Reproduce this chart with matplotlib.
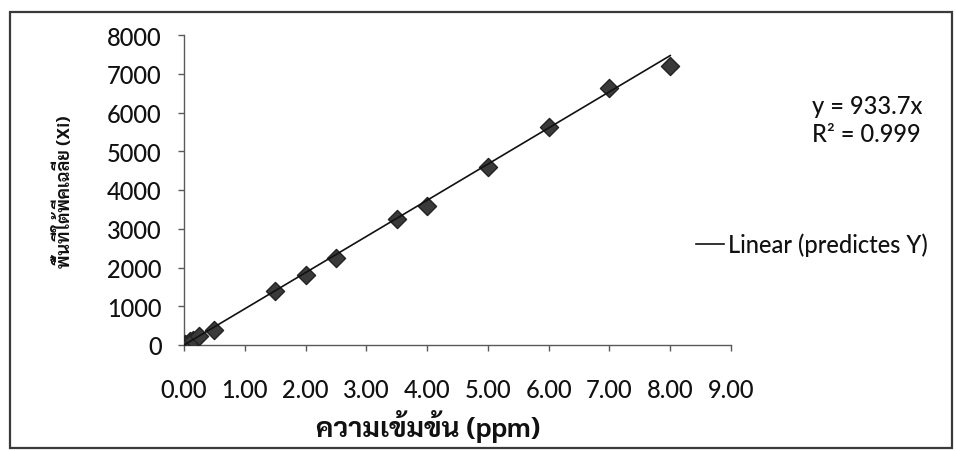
import matplotlib
matplotlib.use("Agg")
import matplotlib.pyplot as plt
import numpy as np
from matplotlib.patches import Rectangle
from matplotlib.lines import Line2D

# Calibration standards: concentration (ppm) vs. mean peak area
conc = [0.02, 0.10, 0.15, 0.25, 0.50, 1.50, 2.00, 2.50, 3.50, 4.00, 5.00, 6.00, 7.00, 8.00]
area = [20, 95, 140, 230, 390, 1390, 1800, 2240, 3250, 3580, 4590, 5620, 6640, 7200]

slope = 933.7
r_squared = 0.999
x_ticks = [0, 1, 2, 3, 4, 5, 6, 7, 8, 9]
y_ticks = [0, 1000, 2000, 3000, 4000, 5000, 6000, 7000, 8000]

LATIN = "Lato"
THAI = ["Sarabun", "Lato"]
TEXT = "#111111"
AXIS = "#5a5a5a"

fig = plt.figure(figsize=(9.56, 4.52), dpi=100)
fig.patch.set_facecolor("white")

# outer chart frame
fig.add_artist(Rectangle((10 / 956, 1 - 449 / 452), 942 / 956, 436 / 452,
                         transform=fig.transFigure, fill=False,
                         edgecolor="#3a3a3a", linewidth=1.6))

ax = fig.add_axes([184 / 956, 1 - 346 / 452, (731 - 184) / 956, (346 - 36) / 452])

ax.scatter(conc, area, marker="D", s=85, facecolor="#3a3a3a",
           edgecolor="#222222", linewidth=1.0, zorder=3)

xfit = np.array([0.0, max(conc)])
ax.plot(xfit, slope * xfit, color="#111111", linewidth=1.2, zorder=4)

ax.set_xlim(0, 9)
ax.set_ylim(0, 8000)
ax.set_xticks(x_ticks)
ax.set_xticklabels([f"{v:.2f}" for v in x_ticks])
ax.set_yticks(y_ticks)
ax.set_yticklabels([str(v) for v in y_ticks])

for side in ("top", "right"):
    ax.spines[side].set_visible(False)
for side in ("left", "bottom"):
    ax.spines[side].set_color(AXIS)
    ax.spines[side].set_linewidth(1.0)

ax.tick_params(axis="both", direction="out", length=4, width=1.0, color=AXIS,
               labelcolor=TEXT)
ax.tick_params(axis="x", pad=20)
ax.tick_params(axis="y", pad=12)
for lab in ax.get_xticklabels() + ax.get_yticklabels():
    lab.set_fontfamily(LATIN)
    lab.set_fontsize(17)
    lab.set_fontweight(500)

fig.text(428 / 956, 1 - 427 / 452, "ความเข้มข้น (ppm)", family=THAI,
         fontweight="bold", fontsize=20, color=TEXT, ha="center", va="center")
fig.text(64 / 956, 1 - 192 / 452, "พื้นที่ใต้พีคเฉลี่ย (Xi)", family=THAI,
         fontweight="bold", fontsize=13, color=TEXT, ha="center", va="center",
         rotation=90)

fig.text(812 / 956, 1 - 106 / 452, f"y = {slope}x", family=LATIN, fontsize=17,
         color=TEXT, ha="left", va="center", fontweight=500)
fig.text(812 / 956, 1 - 134 / 452, f"R² = {r_squared}", family=LATIN, fontsize=17,
         color=TEXT, ha="left", va="center", fontweight=500)

handle = Line2D([], [], color="#111111", linewidth=1.2)
fig.legend([handle], ["Linear (predictes Y)"], loc="center left",
           bbox_to_anchor=(696 / 956, 1 - 245 / 452), frameon=False,
           prop={"family": LATIN, "size": 17, "weight": 500}, handlelength=1.2,
           handletextpad=0.15, borderpad=0, borderaxespad=0, labelcolor=TEXT)

fig.savefig("out.png", dpi=100)
